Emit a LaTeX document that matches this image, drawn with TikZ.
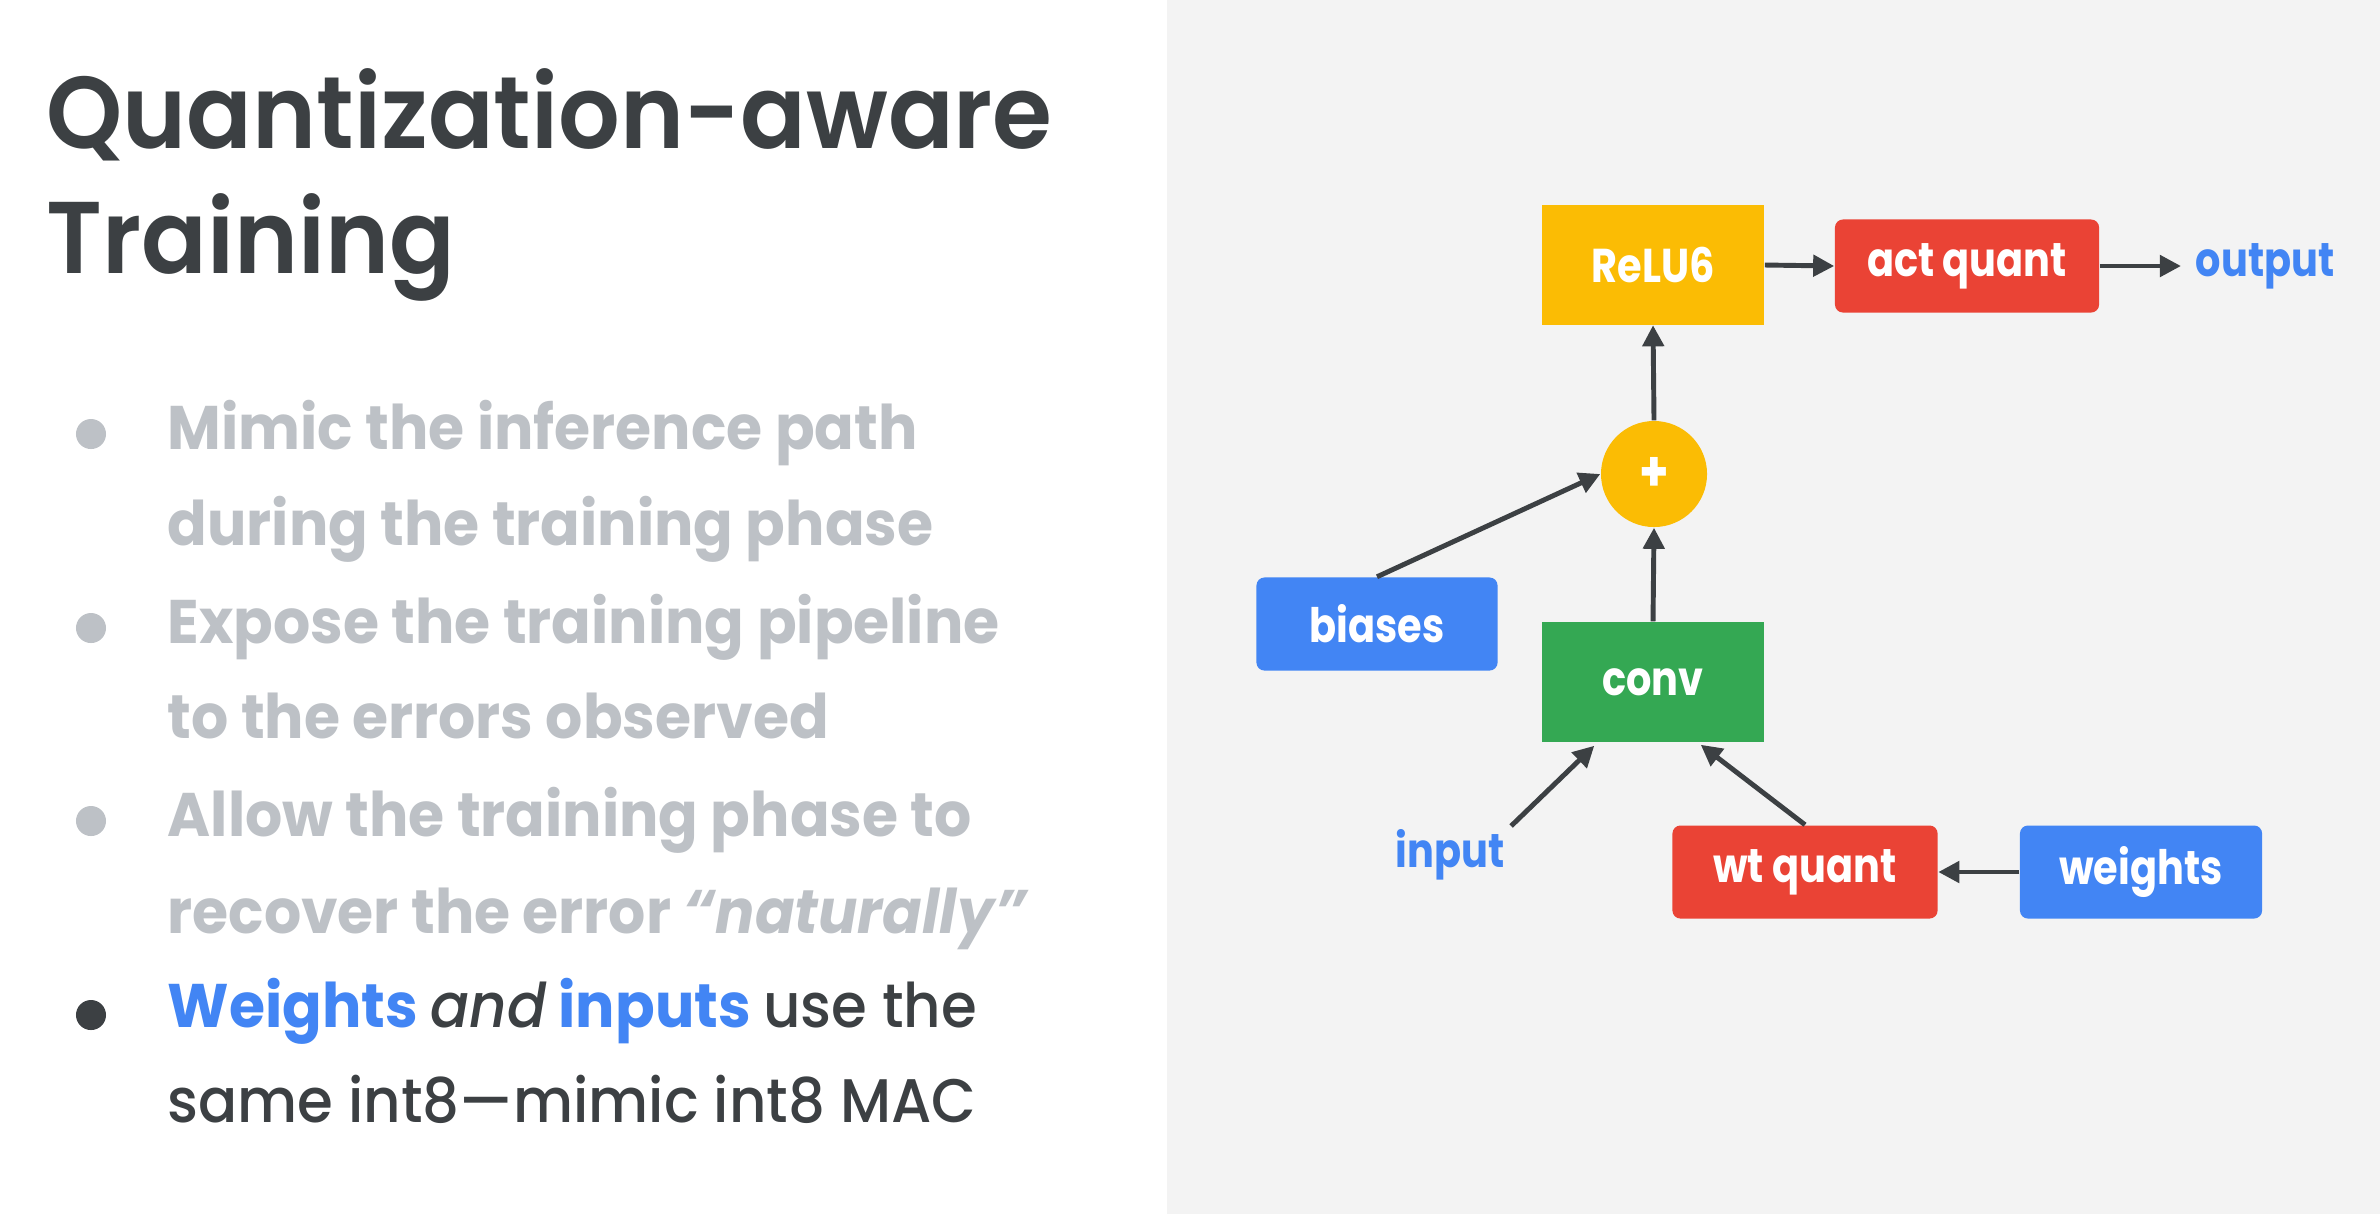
\documentclass[tikz,border=0pt]{standalone}
\usepackage{fontspec}
\setmainfont{Poppins}[FakeStretch=0.95]
\newfontfamily\medfont{Poppins Medium}[FakeStretch=0.94, ItalicFont={Poppins Medium Italic}]
\newfontfamily\headfont{Poppins SemiBold}[FakeStretch=0.95]
\newfontfamily\tagfont{Poppins}[FakeStretch=0.84]
\usetikzlibrary{arrows.meta}
\definecolor{ink}{HTML}{3C4043}
\definecolor{mute}{HTML}{BDC1C6}
\definecolor{gblue}{HTML}{4285F4}
\definecolor{gred}{HTML}{EA4335}
\definecolor{gyellow}{HTML}{FBBC04}
\definecolor{ggreen}{HTML}{34A853}
\definecolor{panel}{HTML}{F3F3F3}
\begin{document}
\begin{tikzpicture}[x=0.01cm,y=-0.01cm,
  boxfont/.style={font=\tagfont\bfseries\fontsize{13.5}{15}\selectfont},
  sqbox/.style={boxfont, text=white, inner sep=0, minimum width=22.2mm, minimum height=11.9mm},
  rbox/.style={boxfont, text=white, inner sep=0, minimum height=9.3mm, rounded corners=0.8mm},
  lbl/.style={boxfont, text=gblue, inner sep=0},
  flow/.style={draw=ink, line width=1.4pt, -{Triangle[length=6pt,width=6pt]}},
  title/.style={anchor=base west, inner sep=0, text=ink, font=\headfont\fontsize{29}{29}\selectfont},
  bul/.style={anchor=base west, inner sep=0, font=\fontsize{17.5}{20}\selectfont\bfseries},
  plain/.style={anchor=base west, inner sep=0, font=\medfont\mdseries\fontsize{17.5}{20}\selectfont},
  dot/.style={circle, inner sep=0, minimum size=3mm},
]
\useasboundingbox (0,0) rectangle (2380,1214);
\fill[white] (0,0) rectangle (2380,1214);
\fill[panel] (1167,0) rectangle (2380,1214);

% heading
\node[title] (t1) at (46,148) {Quantization-aware};
\node[title] (t2) at (46,273) {Training};

% bullet list
\node[dot, fill=mute] (d1) at (91,434) {};
\node[dot, fill=mute] (d2) at (91,628) {};
\node[dot, fill=mute] (d3) at (91,821) {};
\node[dot, fill=ink] (d4) at (91,1015) {};
\node[bul, text=mute] (b1) at (167,449) {Mimic the inference path};
\node[bul, text=mute] (b2) at (167,545) {during the training phase};
\node[bul, text=mute] (b3) at (167,643) {Expose the training pipeline};
\node[bul, text=mute] (b4) at (167,738) {to the errors observed};
\node[bul, text=mute] (b5) at (167,836) {Allow the training phase to};
\node[bul, text=mute] (b6) at (167,933) {recover the error \textit{``naturally''}};
\node[bul, text=ink] (b7) at (167,1027) {\textcolor{gblue}{Weights} {\medfont\mdseries\itshape and} \textcolor{gblue}{inputs} {\medfont\mdseries use the}};
\node[plain, text=ink] (b8) at (167,1122) {same int8—mimic int8 MAC};

% graph
\node[sqbox, fill=gyellow] (relu) at (1653,265) {ReLU6};
\node[rbox, fill=gred, minimum width=26.4mm] (actq) at (1967,266) {act quant};
\node[lbl, anchor=west] (out) at (2195,266) {output};
\node[circle, fill=gyellow, minimum size=10.6mm, inner sep=0, text=white, font=\tagfont\bfseries\fontsize{16}{16}\selectfont] (plus) at (1654,474) {+};
\node[rbox, fill=gblue, minimum width=24.1mm] (bias) at (1377,624) {biases};
\node[sqbox, fill=ggreen, minimum height=12mm] (conv) at (1653,682) {conv};
\node[lbl] (inp) at (1450,855) {input};
\node[rbox, fill=gred, minimum width=26.5mm] (wtq) at (1805,872) {wt quant};
\node[rbox, fill=gblue, minimum width=24.2mm] (wts) at (2141,872) {weights};

\draw[flow] (relu.east) -- (actq.west);
\draw[flow, shorten >=4pt] (actq.east) -- (out.west);
\draw[flow] (plus.north) -- (relu.south);
\draw[flow] (bias.north) -- (plus.west);
\draw[flow] (conv.north) -- (plus.south);
\draw[flow] ([xshift=0.6mm,yshift=0.3mm]inp.north east) -- ([xshift=5.3mm,yshift=-0.3mm]conv.south west);
\draw[flow] (wtq.north) -- ([xshift=-6.4mm,yshift=-0.2mm]conv.south east);
\draw[flow] (wts.west) -- (wtq.east);
\end{tikzpicture}
\end{document}
